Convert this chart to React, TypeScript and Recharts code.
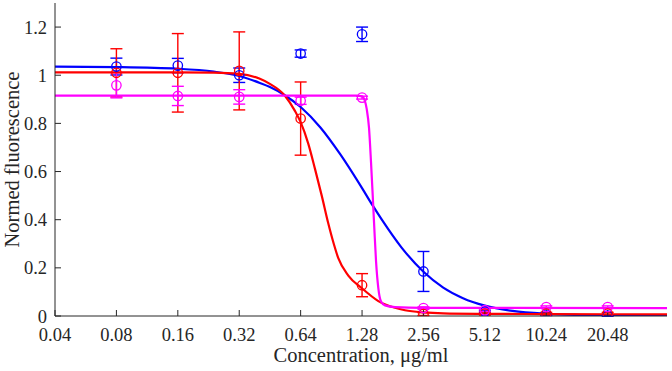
import React from 'react';
import { ComposedChart, Line, Scatter, ErrorBar, XAxis, YAxis } from 'recharts';

// Concentration axis (log2 spacing) and response axis
const xTicks = [0.04, 0.08, 0.16, 0.32, 0.64, 1.28, 2.56, 5.12, 10.24, 20.48];
const xTickLabels = ['0.04', '0.08', '0.16', '0.32', '0.64', '1.28', '2.56', '5.12', '10.24', '20.48'];
const yTicks = [0, 0.2, 0.4, 0.6, 0.8, 1, 1.2];
const yTickLabels = ['0', '0.2', '0.4', '0.6', '0.8', '1', '1.2'];

// Measured points: mean response and symmetric error
const blueX = [0.08, 0.16, 0.32, 0.64, 1.28, 2.56, 5.12, 10.24, 20.48];
const blueY = [1.036, 1.04, 1.0, 1.09, 1.17, 0.185, 0.018, 0.006, 0.002];
const blueErr = [0.035, 0.03, 0.03, 0.015, 0.03, 0.083, 0.006, 0.004, 0.003];

const redX = [0.08, 0.16, 0.32, 0.64, 1.28, 2.56, 5.12, 10.24, 20.48];
const redY = [1.01, 1.01, 1.018, 0.82, 0.128, 0.008, 0.01, 0.01, 0.01];
const redErr = [0.1, 0.163, 0.162, 0.152, 0.048, 0.006, 0.006, 0.005, 0.005];

const magX = [0.08, 0.16, 0.32, 0.64, 1.28, 2.56, 5.12, 10.24, 20.48];
const magY = [0.958, 0.914, 0.91, 0.894, 0.907, 0.033, 0.024, 0.037, 0.037];
const magErr = [0.052, 0.04, 0.03, 0.015, 0.006, 0.005, 0.005, 0.005, 0.005];

// Fitted dose-response curves, sampled along the concentration axis
const blueFitX = [0.04, 0.08, 0.16, 0.24, 0.32, 0.404, 0.45, 0.537, 0.64, 0.8, 1.0, 1.28, 1.45, 1.6, 2.0, 2.56, 3.2, 4.0, 5.12, 7.0, 10.24, 15, 20.48, 40];
const blueFitY = [1.036, 1.034, 1.027, 1.015, 0.997, 0.968, 0.952, 0.916, 0.868, 0.783, 0.672, 0.531, 0.456, 0.4, 0.284, 0.184, 0.118, 0.074, 0.043, 0.021, 0.009, 0.004, 0.002, 0.0004];

const redFitX = [0.04, 0.16, 0.24, 0.32, 0.404, 0.45, 0.536, 0.6, 0.64, 0.698, 0.753, 0.812, 0.874, 0.93, 0.979, 1.096, 1.275, 1.538, 1.857, 2.078, 2.56, 3.2, 5.12, 10.24, 40];
const redFitY = [1.012, 1.012, 1.011, 1.006, 0.985, 0.965, 0.915, 0.852, 0.805, 0.715, 0.61, 0.5, 0.385, 0.3, 0.24, 0.168, 0.116, 0.062, 0.034, 0.024, 0.015, 0.011, 0.009, 0.008, 0.007];

const magFitX = [0.04, 0.16, 0.64, 1.2, 1.28, 1.32, 1.349, 1.385, 1.416, 1.444, 1.47, 1.499, 1.538, 1.586, 1.659, 1.857, 2.56, 40];
const magFitY = [0.915, 0.915, 0.915, 0.915, 0.912, 0.895, 0.86, 0.78, 0.64, 0.5, 0.365, 0.227, 0.116, 0.06, 0.044, 0.037, 0.034, 0.033];

const BLUE = '#0000ff';
const RED = '#ff0000';
const MAGENTA = '#ff00ff';
const AXIS = '#262626';
const FONT = 'Liberation Serif, Times New Roman, serif';

const toPoints = (xs: number[], ys: number[], errs?: number[]) =>
  xs.map((x, i) => ({ x, y: ys[i], err: errs ? errs[i] : 0 }));

const blueData = toPoints(blueX, blueY, blueErr);
const redData = toPoints(redX, redY, redErr);
const magData = toPoints(magX, magY, magErr);
const blueFit = toPoints(blueFitX, blueFitY);
const redFit = toPoints(redFitX, redFitY);
const magFit = toPoints(magFitX, magFitY);

const ringShape = (color: string) => (props: any) => (
  <circle cx={props.cx} cy={props.cy} r={4.7} fill="none" stroke={color} strokeWidth={1.3} />
);

// Tick marks only, no labels (used on the top and right frame edges)
const NoLabel = () => <g />;

const formatX = (v: number) => {
  const i = xTicks.findIndex((t) => Math.abs(t - v) < 1e-9);
  return i >= 0 ? xTickLabels[i] : String(v);
};
const formatY = (v: number) => {
  const i = yTicks.findIndex((t) => Math.abs(t - v) < 1e-9);
  return i >= 0 ? yTickLabels[i] : String(v);
};

const YTitle = (props: any) => {
  const vb = props.viewBox || { y: 3, height: 313 };
  const cx = 12;
  const cy = vb.y + vb.height / 2;
  return (
    <text
      x={cx}
      y={cy}
      transform={`rotate(-90 ${cx} ${cy})`}
      textAnchor="middle"
      dominantBaseline="central"
      fontFamily={FONT}
      fontSize={20.5}
      fill={AXIS}
    >
      Normed fluorescence
    </text>
  );
};

const XTitle = (props: any) => {
  const vb = props.viewBox || { x: 55, width: 612 };
  return (
    <text
      x={vb.x + vb.width / 2}
      y={362}
      textAnchor="middle"
      fontFamily={FONT}
      fontSize={20.5}
      fill={AXIS}
    >
      Concentration, μg/ml
    </text>
  );
};

export default function App() {
  const tickStyle = { fontSize: 18.5, fill: AXIS, fontFamily: FONT };
  return (
    <div style={{ position: 'absolute', left: 0, top: 0, background: '#fff' }}>
      <ComposedChart width={672} height={371} margin={{ top: 3, right: 5, bottom: 0, left: 0 }}>
        <XAxis
          dataKey="x"
          type="number"
          scale="log"
          domain={[0.04, 40]}
          ticks={xTicks}
          tickFormatter={formatX}
          allowDataOverflow
          height={55}
          tickSize={-6}
          tickMargin={18}
          stroke={AXIS}
          tick={tickStyle}
          interval={0}
          label={<XTitle />}
        />
        <XAxis
          xAxisId="top"
          orientation="top"
          dataKey="x"
          type="number"
          scale="log"
          domain={[0.04, 40]}
          ticks={xTicks}
          allowDataOverflow
          height={0}
          tickSize={-6}
          tick={NoLabel}
          interval={0}
          stroke={AXIS}
        />
        <YAxis
          dataKey="y"
          type="number"
          domain={[0, 1.3]}
          ticks={yTicks}
          tickFormatter={formatY}
          allowDataOverflow
          width={55}
          tickSize={-6}
          tickMargin={14}
          stroke={AXIS}
          tick={tickStyle}
          interval={0}
          label={<YTitle />}
        />
        <YAxis
          yAxisId="right"
          orientation="right"
          dataKey="y"
          type="number"
          domain={[0, 1.3]}
          ticks={yTicks}
          allowDataOverflow
          width={0}
          tickSize={-6}
          tick={NoLabel}
          interval={0}
          stroke={AXIS}
        />

        <Scatter data={blueData} dataKey="y" fill={BLUE} stroke={BLUE} shape={ringShape(BLUE)} isAnimationActive={false}>
          <ErrorBar dataKey="err" direction="y" width={6} stroke={BLUE} strokeWidth={1.4} />
        </Scatter>
        <Scatter data={redData} dataKey="y" fill={RED} stroke={RED} shape={ringShape(RED)} isAnimationActive={false}>
          <ErrorBar dataKey="err" direction="y" width={6} stroke={RED} strokeWidth={1.4} />
        </Scatter>
        <Scatter data={magData} dataKey="y" fill={MAGENTA} stroke={MAGENTA} shape={ringShape(MAGENTA)} isAnimationActive={false}>
          <ErrorBar dataKey="err" direction="y" width={6} stroke={MAGENTA} strokeWidth={1.4} />
        </Scatter>

        <Line data={blueFit} dataKey="y" type="monotone" stroke={BLUE} strokeWidth={2.2} dot={false} isAnimationActive={false} />
        <Line data={redFit} dataKey="y" type="monotone" stroke={RED} strokeWidth={2.2} dot={false} isAnimationActive={false} />
        <Line data={magFit} dataKey="y" type="monotone" stroke={MAGENTA} strokeWidth={2.2} dot={false} isAnimationActive={false} />
      </ComposedChart>
    </div>
  );
}
